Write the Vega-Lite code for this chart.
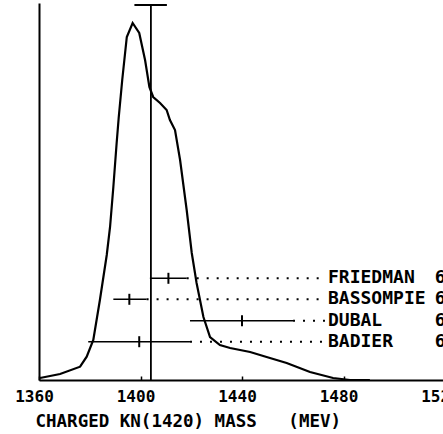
{
  "$schema": "https://vega.github.io/schema/vega-lite/v6.json",
  "width": 404,
  "height": 377,
  "autosize": {"type": "none"},
  "padding": {"left": 39, "top": 3, "right": 0, "bottom": 54},
  "background": "white",
  "config": {"view": {"stroke": null}, "font": "DejaVu Sans Mono", "axis": {"grid": false}},
  "datasets": {
    "curve": [
      {"mass": 1360.4, "ideo": 2}, {"mass": 1368.3, "ideo": 6}, {"mass": 1376.2, "ideo": 13.3},
      {"mass": 1378.8, "ideo": 23.3}, {"mass": 1381.4, "ideo": 40}, {"mass": 1384.0, "ideo": 80},
      {"mass": 1386.7, "ideo": 125}, {"mass": 1388.0, "ideo": 153}, {"mass": 1389.3, "ideo": 193},
      {"mass": 1390.6, "ideo": 237}, {"mass": 1391.4, "ideo": 262}, {"mass": 1392.8, "ideo": 300},
      {"mass": 1394.6, "ideo": 343}, {"mass": 1396.9, "ideo": 357}, {"mass": 1399.5, "ideo": 347},
      {"mass": 1401.8, "ideo": 320}, {"mass": 1403.5, "ideo": 293}, {"mass": 1405.0, "ideo": 283},
      {"mass": 1407.7, "ideo": 277}, {"mass": 1410.3, "ideo": 270}, {"mass": 1411.6, "ideo": 260},
      {"mass": 1413.6, "ideo": 250}, {"mass": 1415.6, "ideo": 220}, {"mass": 1418.2, "ideo": 170},
      {"mass": 1420.2, "ideo": 127}, {"mass": 1422.1, "ideo": 97}, {"mass": 1424.8, "ideo": 63},
      {"mass": 1427.4, "ideo": 43}, {"mass": 1431.3, "ideo": 35}, {"mass": 1435.3, "ideo": 32},
      {"mass": 1443.2, "ideo": 28}, {"mass": 1449.7, "ideo": 23}, {"mass": 1457.6, "ideo": 17},
      {"mass": 1466.8, "ideo": 8}, {"mass": 1475.9, "ideo": 2}, {"mass": 1482.6, "ideo": 0},
      {"mass": 1490.4, "ideo": 0}
    ],
    "meas": [
      {"name": "FRIEDMAN", "mass": 1411.0, "lo": 1403.7, "hi": 1418.2, "row": 101.7, "ref": "6"},
      {"name": "BASSOMPIE", "mass": 1395.6, "lo": 1389.3, "hi": 1402.4, "row": 80.7, "ref": "6"},
      {"name": "DUBAL", "mass": 1440.0, "lo": 1419.5, "hi": 1460.1, "row": 59.3, "ref": "6"},
      {"name": "BADIER", "mass": 1399.5, "lo": 1379.4, "hi": 1419.5, "row": 38.3, "ref": "6"}
    ],
    "avg": [{"mass": 1404.1, "lo": 1397.6, "hi": 1410.4, "top": 375, "base": 0}]
  },
  "layer": [
    {
      "data": {"name": "curve"},
      "mark": {"type": "line", "color": "black", "strokeWidth": 2.2},
      "encoding": {
        "x": {
          "field": "mass", "type": "quantitative",
          "scale": {"domain": [1360, 1520], "range": [0, 406], "nice": false, "zero": false},
          "axis": {
            "values": [1360, 1400, 1440, 1480, 1520],
            "format": "d",
            "title": "CHARGED KN(1420) MASS\u00a0\u00a0\u00a0(MEV)",
            "tickSize": -4, "tickColor": "black", "tickWidth": 1.5,
            "domainColor": "black", "domainWidth": 2,
            "labelFont": "DejaVu Sans Mono", "labelFontWeight": "bold", "labelFontSize": 16,
            "labelColor": "black", "labelPadding": 20, "labelBaseline": "middle",
            "labelOffset": -5, "labelFlush": false, "labelOverlap": false,
            "titleFont": "DejaVu Sans Mono", "titleFontSize": 17.5, "titleFontWeight": "bold",
            "titleColor": "black", "titleAnchor": "start", "titleAlign": "left",
            "titleX": -4, "titleY": 41, "titleBaseline": "middle"
          }
        },
        "y": {
          "field": "ideo", "type": "quantitative",
          "scale": {"domain": [0, 377], "nice": false},
          "axis": {"title": null, "labels": false, "ticks": false, "domainColor": "black", "domainWidth": 2}
        }
      }
    },
    {
      "data": {"name": "avg"},
      "mark": {"type": "rule", "color": "black", "strokeWidth": 1.8},
      "encoding": {
        "x": {"field": "mass", "type": "quantitative"},
        "y": {"field": "base", "type": "quantitative"},
        "y2": {"field": "top"}
      }
    },
    {
      "data": {"name": "avg"},
      "mark": {"type": "rule", "color": "black", "strokeWidth": 1.8},
      "encoding": {
        "x": {"field": "lo", "type": "quantitative"},
        "x2": {"field": "hi"},
        "y": {"field": "top", "type": "quantitative"}
      }
    },
    {
      "data": {"name": "meas"},
      "mark": {"type": "rule", "color": "black", "strokeWidth": 2, "strokeDash": [2, 8]},
      "encoding": {
        "x": {"field": "hi", "type": "quantitative"},
        "x2": {"datum": 1472.7},
        "y": {"field": "row", "type": "quantitative"}
      }
    },
    {
      "data": {"name": "meas"},
      "mark": {"type": "rule", "color": "black", "strokeWidth": 1.6},
      "encoding": {
        "x": {"field": "lo", "type": "quantitative"},
        "x2": {"field": "hi"},
        "y": {"field": "row", "type": "quantitative"}
      }
    },
    {
      "data": {"name": "meas"},
      "mark": {"type": "tick", "orient": "vertical", "color": "black", "size": 11, "thickness": 2, "opacity": 1},
      "encoding": {
        "x": {"field": "mass", "type": "quantitative"},
        "y": {"field": "row", "type": "quantitative"}
      }
    },
    {
      "data": {"name": "meas"},
      "mark": {"type": "text", "align": "left", "baseline": "middle", "font": "DejaVu Sans Mono", "fontSize": 18, "fontWeight": "bold", "color": "black"},
      "encoding": {
        "x": {"datum": 1473.9},
        "y": {"field": "row", "type": "quantitative"},
        "text": {"field": "name"}
      }
    },
    {
      "data": {"name": "meas"},
      "mark": {"type": "text", "align": "left", "baseline": "middle", "font": "DejaVu Sans Mono", "fontSize": 18, "fontWeight": "bold", "color": "black"},
      "encoding": {
        "x": {"datum": 1516.0},
        "y": {"field": "row", "type": "quantitative"},
        "text": {"field": "ref"}
      }
    }
  ]
}
